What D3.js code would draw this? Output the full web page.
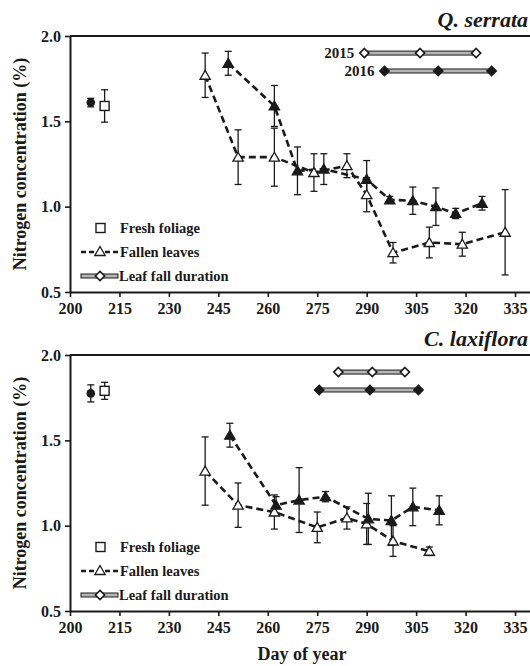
<!DOCTYPE html>
<html>
<head>
<meta charset="utf-8">
<script src="https://cdn.jsdelivr.net/npm/d3@7"></script>
<style>
body { margin: 0; background: #fff; }
svg text { font-family: "Liberation Serif", "Times New Roman", serif; font-weight: bold; fill: #1a1a1a; }
.axis path, .axis line { stroke: #1a1a1a; }
.axis path { stroke-width: 2px; }
.axis line { stroke-width: 1.6px; }
</style>
</head>
<body>
<svg width="530" height="666"></svg>
<script>
// tick labels
var xTicks = [200, 215, 230, 245, 260, 275, 290, 305, 320, 335];
var yTicks = [0.5, 1.0, 1.5, 2.0];

// Q. serrata - fallen leaves
var qs2015Day = [241, 251, 262, 274, 284, 290, 298, 309, 319, 332];
var qs2015N   = [1.77, 1.29, 1.29, 1.20, 1.24, 1.07, 0.73, 0.79, 0.78, 0.85];
var qs2015Err = [0.13, 0.16, 0.17, 0.11, 0.07, 0.10, 0.06, 0.09, 0.07, 0.25];
var qs2016Day = [248, 262, 269, 277, 290, 297, 304, 311, 317, 325];
var qs2016N   = [1.84, 1.59, 1.21, 1.22, 1.16, 1.04, 1.035, 1.00, 0.96, 1.02];
var qs2016Err = [0.07, 0.12, 0.14, 0.09, 0.11, 0.02, 0.08, 0.11, 0.03, 0.04];
// Q. serrata - fresh foliage [2015, 2016]
var qsFreshDay = [210.5, 206.3];
var qsFreshN   = [1.59, 1.61];
var qsFreshErr = [0.095, 0.025];
// Q. serrata - leaf fall duration
var qs2015Dur = [289.3, 306.2, 323.2];
var qs2016Dur = [295.4, 311.7, 327.9];

// C. laxiflora - fallen leaves
var cl2015Day = [241, 251, 262, 275, 284, 290, 298, 309];
var cl2015N   = [1.32, 1.12, 1.08, 0.99, 1.045, 1.01, 0.91, 0.85];
var cl2015Err = [0.20, 0.13, 0.10, 0.09, 0.065, 0.12, 0.09, 0.025];
var cl2016Day = [248.5, 262.5, 269.5, 277.5, 290.5, 297.5, 304, 312];
var cl2016N   = [1.53, 1.12, 1.15, 1.17, 1.04, 1.03, 1.11, 1.09];
var cl2016Err = [0.07, 0.05, 0.19, 0.03, 0.15, 0.145, 0.11, 0.085];
// C. laxiflora - fresh foliage [2015, 2016]
var clFreshDay = [210.5, 206.3];
var clFreshN   = [1.79, 1.775];
var clFreshErr = [0.05, 0.05];
// C. laxiflora - leaf fall duration
var cl2015Dur = [281.4, 291.7, 301.6];
var cl2016Dur = [275.6, 291.0, 305.7];

var svg = d3.select("svg");
var ink = "#1a1a1a";
var serif = "'Liberation Serif', 'Times New Roman', serif";

var x = d3.scaleLinear().domain([200, 340]).range([70, 531.5]);

var tri = d3.symbol().type(d3.symbolTriangle).size(46);
var diamond = "M0,-4.6L4.6,0L0,4.6L-4.6,0Z";

function zip(days, vals, errs) {
  return days.map(function(d, i) { return {day: d, n: vals[i], err: errs[i]}; });
}

function styleAxis(sel) {
  sel.attr("font-family", serif).attr("font-size", 16);
  sel.selectAll("text")
    .style("font-family", serif).style("font-size", "16px").style("font-weight", "bold")
    .attr("fill", ink);
}

function panel(top, title, s15, s16, freshDay, freshN, freshErr, dur15, dur16, showYears) {
  var h = 256;
  var y = d3.scaleLinear().domain([0.5, 2.0]).range([top + h, top]);
  var g = svg.append("g");

  // frame top line
  g.append("line")
    .attr("x1", 70).attr("x2", 531).attr("y1", top).attr("y2", top)
    .attr("stroke", ink).attr("stroke-width", 2);

  g.append("g").attr("class", "axis")
    .attr("transform", "translate(0," + (top + h) + ")")
    .call(d3.axisBottom(x).tickValues(xTicks).tickSize(5).tickSizeOuter(0).tickPadding(6))
    .call(styleAxis);

  g.append("g").attr("class", "axis")
    .attr("transform", "translate(70,0)")
    .call(d3.axisLeft(y).tickValues(yTicks).tickFormat(d3.format(".1f")).tickSize(5).tickSizeOuter(0).tickPadding(4))
    .call(styleAxis);

  g.append("text")
    .attr("x", 528).attr("y", top - 9)
    .attr("text-anchor", "end")
    .style("font-size", "22px").style("font-style", "italic")
    .text(title);

  g.append("text")
    .attr("transform", "translate(26," + (top + h / 2) + ") rotate(-90)")
    .attr("text-anchor", "middle")
    .style("font-size", "18px")
    .text("Nitrogen concentration (%)");

  // leaf fall duration bars
  var durs = [{days: dur15, yv: 1.90, fill: "#fff", label: "2015"},
              {days: dur16, yv: 1.795, fill: ink, label: "2016"}];
  durs.forEach(function(d) {
    var yy = y(d.yv);
    g.append("rect")
      .attr("x", x(d.days[0])).attr("y", yy - 2)
      .attr("width", x(d.days[d.days.length - 1]) - x(d.days[0])).attr("height", 4)
      .attr("fill", "#b5b5b5").attr("stroke", ink).attr("stroke-width", 1);
    g.selectAll(null).data(d.days).enter().append("path")
      .attr("d", diamond)
      .attr("transform", function(v) { return "translate(" + x(v) + "," + yy + ")"; })
      .attr("fill", d.fill).attr("stroke", ink).attr("stroke-width", 1.6);
    if (showYears) {
      g.append("text")
        .attr("x", x(d.days[0]) - 10).attr("y", yy + 5)
        .attr("text-anchor", "end")
        .style("font-size", "15px")
        .text(d.label);
    }
  });

  var line = d3.line().x(function(d) { return x(d.day); }).y(function(d) { return y(d.n); });

  [s15, s16].forEach(function(s) {
    g.append("path").datum(s)
      .attr("d", line)
      .attr("fill", "none").attr("stroke", ink)
      .attr("stroke-width", 2.6).attr("stroke-dasharray", "7,4");
  });

  var fresh = zip(freshDay, freshN, freshErr);
  var all = s15.concat(s16).concat(fresh);

  // error bars
  var eb = g.selectAll(null).data(all).enter().append("g")
    .attr("stroke", ink).attr("stroke-width", 1.3);
  eb.append("line")
    .attr("x1", function(d) { return x(d.day); }).attr("x2", function(d) { return x(d.day); })
    .attr("y1", function(d) { return y(d.n + d.err); }).attr("y2", function(d) { return y(d.n - d.err); });
  eb.append("line")
    .attr("x1", function(d) { return x(d.day) - 3.5; }).attr("x2", function(d) { return x(d.day) + 3.5; })
    .attr("y1", function(d) { return y(d.n + d.err); }).attr("y2", function(d) { return y(d.n + d.err); });
  eb.append("line")
    .attr("x1", function(d) { return x(d.day) - 3.5; }).attr("x2", function(d) { return x(d.day) + 3.5; })
    .attr("y1", function(d) { return y(d.n - d.err); }).attr("y2", function(d) { return y(d.n - d.err); });

  // triangles
  [[s15, "#fff"], [s16, ink]].forEach(function(p) {
    g.selectAll(null).data(p[0]).enter().append("path")
      .attr("d", tri)
      .attr("transform", function(d) { return "translate(" + x(d.day) + "," + (y(d.n) + 1) + ")"; })
      .attr("fill", p[1]).attr("stroke", ink).attr("stroke-width", 1.3);
  });

  // fresh foliage: 2015 open square, 2016 filled circle
  g.append("rect")
    .attr("x", x(fresh[0].day) - 4.5).attr("y", y(fresh[0].n) - 4.5)
    .attr("width", 9).attr("height", 9)
    .attr("fill", "#fff").attr("stroke", ink).attr("stroke-width", 1.4);
  g.append("circle")
    .attr("cx", x(fresh[1].day)).attr("cy", y(fresh[1].n)).attr("r", 4.3)
    .attr("fill", ink);

  // legend
  var ly = top + 192;
  var lg = g.append("g").style("font-size", "14.5px");
  lg.append("rect").attr("x", 96).attr("y", ly - 4.5).attr("width", 9).attr("height", 9)
    .attr("fill", "#fff").attr("stroke", ink).attr("stroke-width", 1.4);
  lg.append("text").attr("x", 120).attr("y", ly + 5).text("Fresh foliage");

  ly += 24;
  lg.append("line").attr("x1", 81).attr("x2", 118).attr("y1", ly).attr("y2", ly)
    .attr("stroke", ink).attr("stroke-width", 2.6).attr("stroke-dasharray", "5,3");
  lg.append("path").attr("d", tri).attr("transform", "translate(100," + (ly + 0.5) + ")")
    .attr("fill", "#fff").attr("stroke", ink).attr("stroke-width", 1.3);
  lg.append("text").attr("x", 120).attr("y", ly + 5).text("Fallen leaves");

  ly += 24;
  lg.append("rect").attr("x", 81).attr("y", ly - 2).attr("width", 37).attr("height", 4)
    .attr("fill", "#b5b5b5").attr("stroke", ink).attr("stroke-width", 1);
  lg.append("path").attr("d", diamond).attr("transform", "translate(100," + ly + ")")
    .attr("fill", "#fff").attr("stroke", ink).attr("stroke-width", 1.6);
  lg.append("text").attr("x", 119).attr("y", ly + 5).text("Leaf fall duration");
}

panel(36, "Q. serrata",
  zip(qs2015Day, qs2015N, qs2015Err), zip(qs2016Day, qs2016N, qs2016Err),
  qsFreshDay, qsFreshN, qsFreshErr, qs2015Dur, qs2016Dur, true);

panel(355, "C. laxiflora",
  zip(cl2015Day, cl2015N, cl2015Err), zip(cl2016Day, cl2016N, cl2016Err),
  clFreshDay, clFreshN, clFreshErr, cl2015Dur, cl2016Dur, false);

svg.append("text")
  .attr("x", 302).attr("y", 660)
  .attr("text-anchor", "middle")
  .style("font-size", "18px")
  .text("Day of year");
</script>
</body>
</html>
